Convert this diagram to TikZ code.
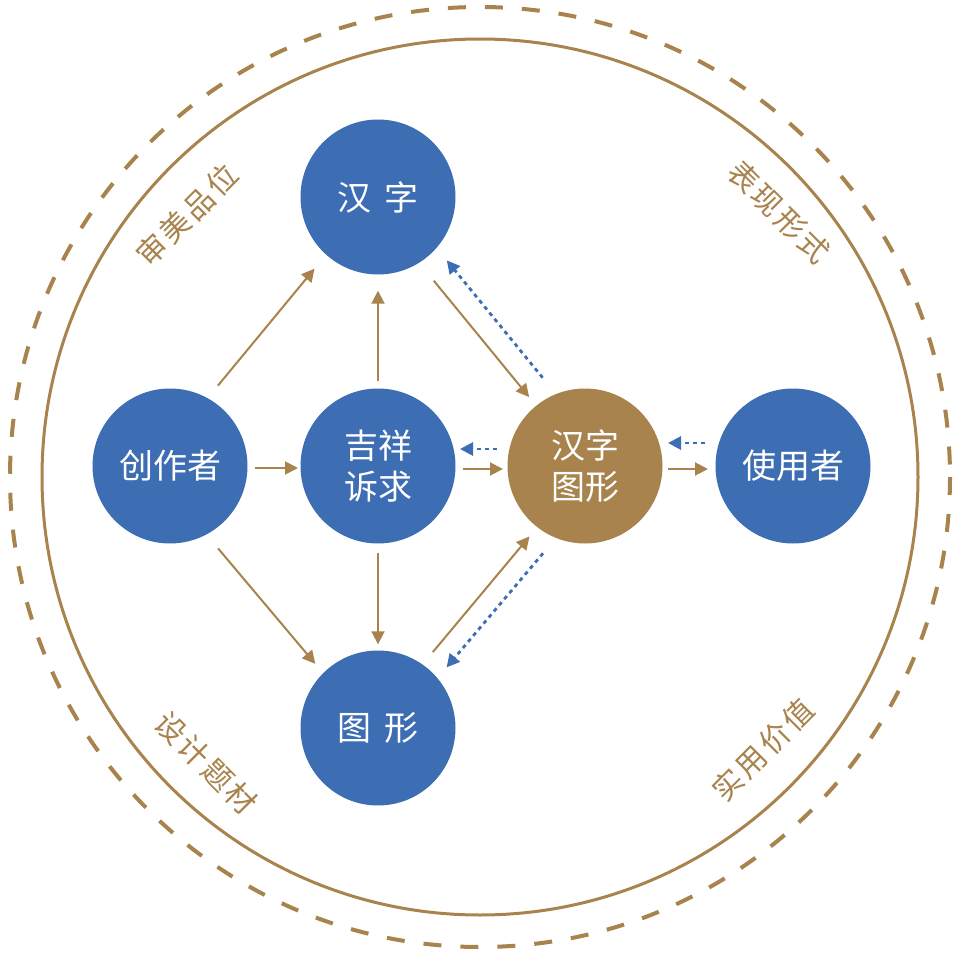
\documentclass[tikz,border=0pt]{standalone}
\usepackage{fontspec}
\setmainfont{Noto Sans CJK SC}
\usetikzlibrary{arrows.meta}
\definecolor{nblue}{RGB}{61,109,178}
\definecolor{nbrown}{RGB}{168,131,77}
\tikzset{
  bnode/.style={circle,fill=nblue,minimum size=155pt,inner sep=0pt,text=white,font=\fontsize{34pt}{41pt}\selectfont,align=center},
  gnode/.style={bnode,fill=nbrown},
  barrow/.style={draw=nbrown,line width=2pt,-{Triangle[length=13pt,width=13pt]}},
  darrow/.style={draw=nblue,line width=2.8pt,dash pattern=on 4pt off 4pt,-{Triangle[length=13pt,width=13pt]}},
  lbl/.style={text=nbrown,font=\fontsize{30pt}{34pt}\selectfont,inner sep=0pt}
}
\newcommand{\gp}{\hspace{3pt}}
\begin{document}
\begin{tikzpicture}[x=1pt,y=-1pt]
\useasboundingbox (0,0) rectangle (959,955);
\fill[white] (0,0) rectangle (959,955);
\coordinate (ctr) at (480,477);
\draw[nbrown,line width=3pt] (ctr) circle[radius=438];
\draw[nbrown,line width=4pt,dash pattern=on 18pt off 19pt] (ctr) circle[radius=470];
\node[bnode] (hz) at (378,197) {汉\hspace{0.4em}字};
\node[bnode] (cz) at (170,466) {创作者};
\node[bnode] (jx) at (378,466) {吉祥\\诉求};
\node[gnode] (tx) at (585,466) {汉字\\图形};
\node[bnode] (sy) at (793,466) {使用者};
\node[bnode] (tg) at (378,728) {图\hspace{0.4em}形};
% labels
\node[lbl,rotate=45] (l1) at (187,215) {审\gp 美\gp 品\gp 位};
\node[lbl,rotate=-45] (l2) at (779,212) {表\gp 现\gp 形\gp 式};
\node[lbl,rotate=-45] (l3) at (206,763) {设\gp 计\gp 题\gp 材};
\node[lbl,rotate=45] (l4) at (763,750) {实\gp 用\gp 价\gp 值};
% brown arrows
\draw[barrow,shorten <=16pt,shorten >=18pt] (cz.61) -- (hz.228);
\draw[barrow,shorten <=18pt,shorten >=12pt] (cz.-62) -- (tg.135);
\draw[barrow,shorten <=85pt,shorten >=80pt] ([yshift=-2pt]cz.center) -- ([yshift=-2pt]jx.center);
\draw[barrow,shorten <=7pt,shorten >=16pt] (jx.north) -- (hz.south);
\draw[barrow,shorten <=9pt,shorten >=6pt] (jx.south) -- (tg.north);
\draw[barrow,shorten <=23pt,shorten >=11pt] (hz.-58) -- (tx.129);
\draw[barrow,shorten <=16pt,shorten >=12pt] (tg.55) -- (tx.232);
\draw[barrow,shorten <=85pt,shorten >=82pt] ([yshift=-3pt]jx.center) -- ([yshift=-3pt]tx.center);
\draw[barrow,shorten <=83pt,shorten >=85pt] ([yshift=-3pt]tx.center) -- ([yshift=-3pt]sy.center);
% blue dotted arrows
\draw[darrow,shorten <=21pt,shorten >=16pt] (tx.112) -- (hz.-41);
\draw[darrow,shorten <=20pt,shorten >=14pt] (tx.248) -- (tg.40);
\draw[darrow,shorten <=88pt,shorten >=82pt] ([yshift=17pt]tx.center) -- ([yshift=17pt]jx.center);
\draw[darrow,shorten <=88pt,shorten >=83pt] ([yshift=23pt]sy.center) -- ([yshift=23pt]tx.center);
\end{tikzpicture}
\end{document}
